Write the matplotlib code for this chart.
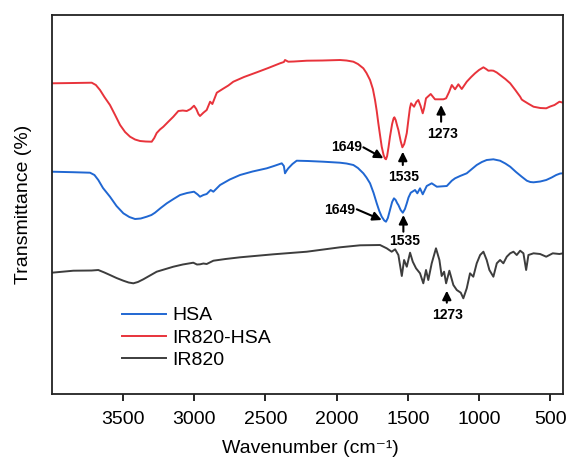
import matplotlib
matplotlib.use("Agg")
import matplotlib.pyplot as plt

plt.rcParams['font.family'] = ['Liberation Sans', 'DejaVu Sans']

# ---- data (wavenumber, transmittance in arbitrary offset units) ----
red_w = [4000, 3850, 3719, 3690, 3661, 3630, 3591, 3555, 3520, 3485, 3450, 3415, 3380, 3340,
         3298, 3280, 3263, 3240, 3216, 3180, 3146, 3111, 3080, 3052, 3025, 3001, 2985, 2970,
         2959, 2935, 2912, 2888, 2872, 2841, 2800, 2760, 2725, 2650, 2560, 2480, 2397, 2370,
         2362, 2339, 2300, 2209, 2100, 1976, 1930, 1882, 1850, 1812, 1790, 1765, 1745, 1730,
         1718, 1707, 1695, 1683, 1670, 1660, 1653, 1645, 1635, 1625, 1610, 1600, 1594, 1585,
         1575, 1566, 1550, 1538, 1525, 1515, 1507, 1495, 1485, 1477, 1456, 1440, 1426, 1410,
         1395, 1385, 1372, 1339, 1309, 1250, 1231, 1210, 1191, 1168, 1145, 1121, 1086, 1055,
         1028, 1000, 969, 950, 934, 915, 899, 875, 852, 815, 781, 745, 711, 700, 688, 650,
         617, 570, 528, 500, 470, 435, 410]
red_y = [310.7, 311.0, 311.3, 309, 304, 297, 289, 279, 269, 262, 257.3, 254.5, 253, 252.5,
         252.3, 256, 261, 264.5, 267.3, 272.5, 277.3, 283, 283.5, 283, 285, 288.3, 285, 280,
         278, 281.3, 284, 292.3, 290, 301.3, 305, 308.5, 312.3, 317, 321.7, 326, 330.7, 332,
         334, 332.3, 332.5, 333.3, 333.5, 334, 333.5, 332.3, 330, 325.7, 321, 314, 305, 294,
         283, 271, 259, 247.3, 239, 235.5, 234.7, 238, 247, 257.3, 270, 275.5, 276.7, 274,
         268.5, 264, 253, 246.7, 250, 256, 261, 275, 286, 290.7, 287.3, 292, 294, 288,
         280.7, 286, 295.7, 300, 294.7, 294.7, 295.7, 302, 309, 304.7, 309.7, 305, 312.3, 317,
         320.7, 324, 326.7, 325, 323.3, 323.5, 323.3, 321.5, 319, 315, 310.7, 304, 297.3, 294.5, 293.3, 290,
         287.3, 286, 285.7, 287.5, 289, 292.3, 291.3]

blue_w = [4000, 3850, 3731, 3700, 3673, 3640, 3591, 3545, 3497, 3455, 3415, 3375, 3333, 3300,
          3275, 3235, 3192, 3145, 3099, 3050, 3001, 2975, 2959, 2935, 2912, 2884, 2865, 2818,
          2750, 2678, 2590, 2490, 2440, 2385, 2370, 2362, 2350, 2339, 2310, 2280, 2200, 2093,
          1976, 1930, 1882, 1850, 1812, 1790, 1765, 1740, 1718, 1700, 1683, 1665, 1653, 1640,
          1625, 1610, 1597, 1585, 1575, 1566, 1550, 1535, 1520, 1507, 1495, 1479, 1449, 1433,
          1414, 1395, 1367, 1332, 1296, 1226, 1191, 1168, 1133, 1086, 1050, 1016, 980, 946,
          899, 852, 815, 781, 740, 700, 664, 640, 617, 570, 528, 490, 458, 430, 410]
blue_y = [222.3, 221.8, 221.3, 219, 214, 206, 197.3, 188, 180.7, 177, 175, 175.5, 177.3, 179,
          181.3, 186, 190.7, 195, 199, 201, 202.3, 199.5, 197.3, 199, 200, 204, 202.3, 209,
          214.5, 219, 222.5, 225.7, 228, 230.7, 228, 220.7, 223.5, 225.7, 230, 233.3, 233, 232.3,
          231.3, 230.5, 229, 226, 220.7, 216.5, 210.7, 201, 190.7, 183, 177.3, 173.5, 172.3, 176,
          184, 192, 195.7, 194, 191, 189, 184, 181.3, 185, 190.7, 196.5, 201.3, 204, 200.7,
          205.7, 199.7, 208, 210.7, 207.3, 208, 213.3, 215.7, 218, 220.7, 225, 229, 232, 234,
          234.7, 233.3, 230.5, 227.3, 222, 217.3, 213.3, 212, 211.7, 212.5, 214, 216.5, 219, 220.5, 220.7]

gray_w = [4000, 3848, 3720, 3673, 3630, 3591, 3545, 3497, 3460, 3427, 3395, 3357, 3310, 3263,
          3200, 3146, 3080, 3006, 2980, 2959, 2935, 2912, 2865, 2780, 2678, 2444, 2209, 1976,
          1835, 1695, 1648, 1613, 1589, 1566, 1542, 1526, 1507, 1484, 1465, 1442, 1414, 1391,
          1372, 1356, 1332, 1302, 1278, 1262, 1245, 1231, 1208, 1180, 1156, 1128, 1110, 1086,
          1063, 1040, 1016, 992, 969, 946, 927, 899, 875, 852, 829, 805, 781, 758, 735, 711,
          688, 669, 653, 617, 571, 528, 482, 435, 410]
gray_y = [121.3, 123.3, 123.5, 124, 121.5, 119, 116, 113.3, 111.5, 110.7, 112, 114.7, 118.5, 122.3,
          125, 127.3, 129.5, 131.3, 129.5, 129.7, 130.5, 130, 133.3, 135, 136.7, 139.7, 142.3, 146.7,
          148.7, 149, 145.7, 142.3, 144.7, 139, 118, 134, 127.3, 141.3, 132.3, 125.7, 120.7, 110.7,
          124, 114, 130.7, 145.7, 134, 118, 122.3, 110.7, 123.3, 109, 104, 101.3, 95.7, 105.7,
          120.7, 117.3, 130.7, 139, 142.3, 134, 124, 117.3, 130.7, 134, 130.7, 137.3, 140.7, 142.3, 139, 143.3,
          140.7, 124, 139, 140.7, 140, 137.3, 140.7, 140, 140.7]

series_labels = ['HSA', 'IR820-HSA', 'IR820']
x_ticks = [3500, 3000, 2500, 2000, 1500, 1000, 500]

# annotations: (label, arrow tip x, tip y, tail x, tail y, text x, text y, ha)
annotations = [
    ('1649', 1671, 235.7, 1812, 246.7, 1823, 246.7, 'right'),
    ('1535', 1535, 242.3, 1535, 229.0, 1526, 217.3, 'center'),
    ('1273', 1266, 289.0, 1266, 272.3, 1258, 260.0, 'center'),
    ('1649', 1683, 174.0, 1858, 184.7, 1870, 184.0, 'right'),
    ('1535', 1531, 179.0, 1531, 162.3, 1519, 153.2, 'center'),
    ('1273', 1226, 103.3, 1226, 91.3, 1221, 79.0, 'center'),
]

fig = plt.figure(figsize=(5.69, 4.59), dpi=100)
ax = fig.add_axes([0.0909, 0.1416, 0.8986, 0.8257])

blue_c = '#2067d2'
red_c = '#e8333b'
gray_c = '#3d3d3d'
lw = 1.4
ax.plot(blue_w, blue_y, color=blue_c, lw=lw, label=series_labels[0])
ax.plot(red_w, red_y, color=red_c, lw=lw, label=series_labels[1])
ax.plot(gray_w, gray_y, color=gray_c, lw=lw, label=series_labels[2])

ax.set_xlim(4000, 410)
ax.set_ylim(0, 379)
ax.set_xticks(x_ticks)
ax.set_yticks([])
ax.tick_params(axis='x', direction='out', length=5, width=1.2, labelsize=14, pad=7)
for s in ax.spines.values():
    s.set_linewidth(1.3)
    s.set_color('#222222')

for lab, tx, ty, sx, sy, xt, yt, ha in annotations:
    ax.annotate('', xy=(tx, ty), xytext=(sx, sy),
                arrowprops=dict(arrowstyle='-|>', color='black', lw=1.5,
                                mutation_scale=13, shrinkA=0, shrinkB=0))
    ax.text(xt, yt, lab, ha=ha, va='center', fontsize=10, fontweight='bold')

ax.set_xlabel('Wavenumber (cm\u207b\u00b9)', fontsize=14, va='center')
ax.xaxis.set_label_coords(0.505, -0.145)
ax.set_ylabel('Transmittance (%)', fontsize=14, va='center')
ax.yaxis.set_label_coords(-0.055, 0.5)

ax.legend(loc='center left', bbox_to_anchor=(0.1375, 0.1478), frameon=False,
          fontsize=14, handlelength=2.27, handletextpad=0.3, labelspacing=0.25,
          borderpad=0, borderaxespad=0)

fig.savefig('out.png', dpi=100)
